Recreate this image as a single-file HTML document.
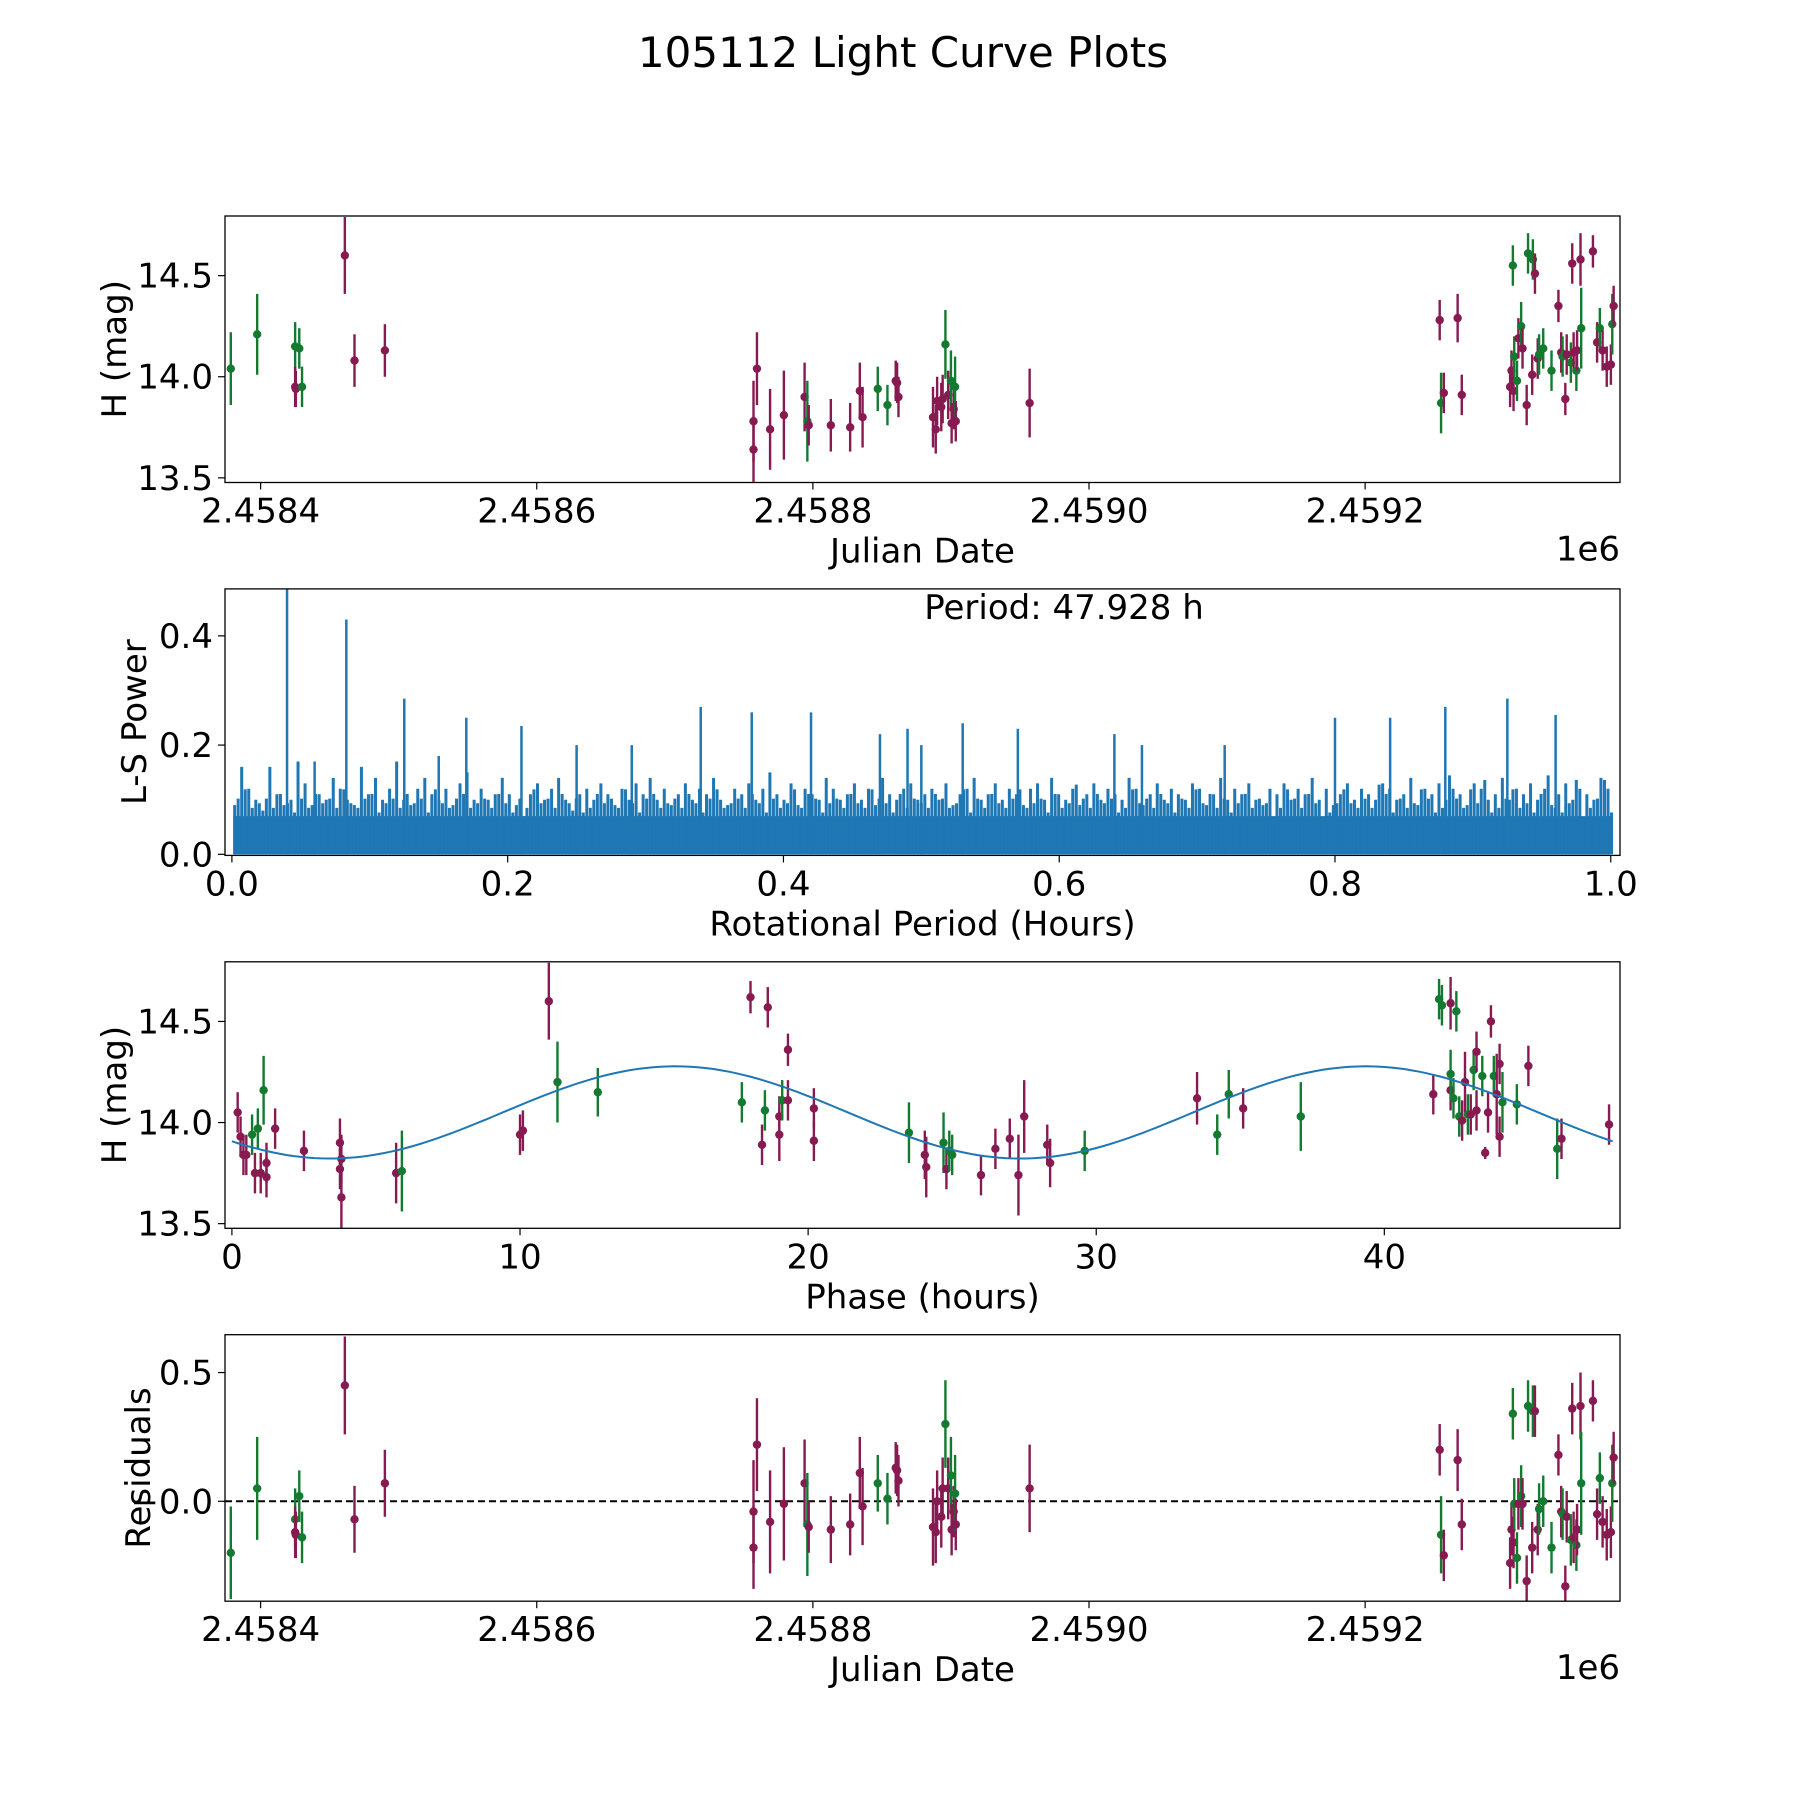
<!DOCTYPE html>
<html><head><meta charset="utf-8"><style>
html,body{margin:0;padding:0;background:#fff;}
svg{display:block;font-family:"DejaVu Sans","Liberation Sans",sans-serif;}
</style></head><body>
<svg id="fig" width="1800" height="1800" viewBox="0 0 1800 1800" xmlns="http://www.w3.org/2000/svg">
<text x="903" y="67" font-size="42" text-anchor="middle">105112 Light Curve Plots</text>
<g id="g1"></g>
<g id="g2"></g>
<g id="g3"></g>
<g id="g4"></g>
</svg>
<script>
const jdOffsets=[-21.6,-2.5,25,25,25.5,28,30,61,68,90,357,357,359.5,369,379,394,396,397,413,427,434,436,447,454,460,461,462,487,489,490,493,494,496,498,500,500.5,502,503,503.5,557,854,855,857,867,870,905,906,907,907.5,908,910,911,913,914,917,918,921,921.5,923,925,926,929,935,940,942,943,945,946,949,950,951,953,953.5,956,956.5,965,968,970,972,975,978,979,980];
const mags=[14.04,14.21,14.15,13.95,13.94,14.14,13.95,14.60,14.08,14.13,13.78,13.64,14.04,13.74,13.81,13.90,13.78,13.76,13.76,13.75,13.93,13.80,13.94,13.86,13.98,13.97,13.90,13.80,13.74,13.88,13.85,13.89,14.16,13.91,13.98,13.77,13.84,13.95,13.78,13.87,14.28,13.87,13.92,14.29,13.91,13.95,14.03,14.55,13.93,14.10,13.98,14.19,14.25,14.14,13.86,14.61,14.01,14.58,14.51,14.09,14.11,14.14,14.03,14.35,14.12,14.10,13.89,14.11,14.07,14.56,14.12,14.03,14.13,14.58,14.24,14.62,14.17,14.24,14.13,14.05,14.06,14.26,14.35];
const magErrs=[.18,.2,.12,.1,.09,.1,.1,.19,.13,.13,.2,.16,.18,.2,.22,.17,.2,.1,.13,.12,.14,.15,.11,.1,.1,.1,.1,.15,.12,.12,.12,.12,.17,.12,.15,.1,.1,.15,.1,.17,.1,.15,.1,.12,.1,.1,.1,.1,.1,.1,.1,.1,.12,.1,.1,.1,.1,.1,.1,.1,.1,.1,.1,.08,.1,.1,.08,.1,.1,.1,.1,.1,.1,.13,.2,.08,.1,.1,.1,.1,.1,.15,.1];
const bands="GGGMMGGMMMMMMMMMGMMMMMGGMMMMMMMMGMGMMGMMMGMMMMMGMGGMGMMGMGMMGGGMMGMMGMMGMMGMMGMMMGM".split("");
const residuals=[-0.20,0.05,-0.07,-0.12,-0.13,0.02,-0.14,0.45,-0.07,0.07,-0.04,-0.18,0.22,-0.08,-0.01,0.07,-0.09,-0.10,-0.11,-0.09,0.11,-0.02,0.07,0.01,0.13,0.12,0.08,-0.10,-0.12,0.0,-0.06,0.05,0.30,0.05,0.10,-0.11,-0.04,0.03,-0.09,0.05,0.20,-0.13,-0.21,0.16,-0.09,-0.24,-0.11,0.34,-0.16,-0.01,-0.22,-0.01,0.02,-0.01,-0.31,0.37,-0.18,0.35,0.35,-0.11,-0.03,0.0,-0.18,0.18,-0.04,-0.05,-0.33,-0.06,-0.15,0.36,-0.14,-0.17,-0.11,0.37,0.07,0.39,-0.05,0.09,-0.08,-0.13,-0.12,0.07,0.17];
const phases=[0.2,0.3,0.4,0.5,0.7,0.8,0.9,1.0,1.1,1.2,1.2,1.5,2.5,3.75,3.75,3.8,3.8,5.7,5.9,10.0,10.1,11.0,11.3,12.7,17.7,18.0,18.4,18.5,18.6,19.0,19.0,19.1,19.3,19.3,20.2,20.2,23.5,24.05,24.1,24.7,24.8,24.9,25.0,26.0,26.5,27.0,27.3,27.5,28.3,28.4,29.6,33.5,34.2,34.6,35.1,37.1,41.7,41.9,42.0,42.3,42.3,42.3,42.4,42.5,42.6,42.7,42.8,42.9,43.0,43.1,43.2,43.2,43.4,43.5,43.6,43.7,43.8,43.9,44.0,44.1,44.0,44.6,45.0,46.0,46.15,47.8];
const phaseMags=[14.05,13.93,13.84,13.84,13.94,13.75,13.97,13.75,14.16,13.80,13.73,13.97,13.86,13.77,13.90,13.63,13.82,13.75,13.76,13.94,13.96,14.60,14.20,14.15,14.10,14.62,13.89,14.06,14.57,14.03,13.94,14.11,14.36,14.11,14.07,13.91,13.95,13.84,13.78,13.90,13.77,13.86,13.84,13.74,13.87,13.92,13.74,14.03,13.89,13.80,13.86,14.12,13.94,14.14,14.07,14.03,14.14,14.61,14.58,14.16,14.24,14.59,14.12,14.55,14.03,14.01,14.20,14.04,14.04,14.26,14.35,14.06,14.23,13.85,14.05,14.50,14.23,14.14,14.29,14.10,13.93,14.09,14.28,13.87,13.92,13.99];
const phaseErrs=[.1,.1,.1,.1,.1,.1,.1,.1,.17,.1,.1,.1,.1,.1,.12,.15,.12,.15,.2,.1,.1,.19,.2,.12,.1,.08,.1,.1,.1,.1,.13,.1,.08,.1,.1,.1,.15,.12,.15,.15,.1,.1,.1,.1,.1,.1,.2,.18,.1,.12,.1,.13,.1,.12,.1,.17,.1,.1,.1,.1,.12,.13,.1,.1,.1,.1,.15,.1,.1,.1,.1,.1,.1,.03,.1,.08,.1,.2,.1,.15,.1,.1,.1,.15,.1,.1];
const phaseBands="MMMMGMGMGMMMMMMMMMGMMMGGGMMGMMMGMMMMGMMGMGGMMMMMMMGMGGMGMGGMGMGGGMMGMGMMGMMMGMMGMGMGMM".split("");
const fitMean=14.05, fitAmp=0.228, fitZero=9.4, fitPeriod=23.964;
const lsBase=[0.09,0.16,0.12,0.10,0.08,0.16,0.11,0.09,0.10,0.17,0.13,0.09,0.11,0.10,0.14,0.12,0.10,0.09,0.16,0.11,0.14,0.10,0.12,0.17,0.10,0.09,0.12,0.14,0.11,0.10,0.12,0.09,0.13,0.15,0.10,0.12,0.10,0.11,0.14,0.11,0.09,0.07,0.11,0.13,0.10,0.12,0.14,0.10,0.08,0.11,0.12,0.10,0.13,0.11,0.09,0.12,0.10,0.13,0.11,0.14,0.10,0.12,0.09,0.11,0.13,0.10,0.12,0.11,0.14,0.10,0.09,0.12,0.11,0.13,0.10,0.12,0.15,0.11,0.10,0.13,0.09,0.12,0.11,0.10,0.14,0.12,0.10,0.11,0.13,0.10,0.12,0.09,0.14,0.11,0.10,0.12,0.13,0.10,0.11,0.12,0.10,0.13,0.09,0.11,0.12,0.14,0.10,0.11,0.13,0.10,0.12,0.11,0.09,0.12,0.13,0.10,0.14,0.11,0.10,0.12,0.09,0.11,0.13,0.10,0.12,0.11,0.10,0.14,0.12,0.09,0.11,0.13,0.10,0.12,0.11,0.10,0.13,0.12,0.09,0.11,0.14,0.10,0.12,0.11,0.13,0.10,0.09,0.12,0.11,0.13,0.10,0.12,0.11,0.14,0.10,0.12,0.09,0.11,0.13,0.10,0.12,0.11,0.10,0.13,0.12,0.10,0.11,0.14,0.09,0.12,0.11,0.13,0.10,0.12,0.11,0.09,0.13,0.12,0.10,0.11,0.14,0.10,0.12,0.11,0.13,0.10,0.12,0.09,0.11,0.13,0.10,0.12,0.11,0.10,0.14,0.12];
const lsPeakPeriods=[0.04,0.083,0.125,0.17,0.21,0.25,0.29,0.34,0.377,0.42,0.47,0.49,0.5,0.53,0.57,0.64,0.66,0.72,0.80,0.84,0.88,0.925,0.96,0.06,0.15];
const lsPeakPowers=[0.49,0.43,0.285,0.25,0.235,0.2,0.2,0.27,0.26,0.26,0.22,0.23,0.2,0.24,0.23,0.22,0.2,0.2,0.25,0.25,0.27,0.285,0.255,0.17,0.18];
const jdTicks=[0,200,400,600,800], jdTickLabels=["2.4584","2.4586","2.4588","2.4590","2.4592"];
const magTicks=[13.5,14.0,14.5], magTickLabels=["13.5","14.0","14.5"];
const lsXTicks=[0,0.2,0.4,0.6,0.8,1.0], lsXTickLabels=["0.0","0.2","0.4","0.6","0.8","1.0"];
const lsYTicks=[0,0.2,0.4], lsYTickLabels=["0.0","0.2","0.4"];
const phTicks=[0,10,20,30,40], phTickLabels=["0","10","20","30","40"];
const resTicks=[0,0.5], resTickLabels=["\u22120.0","0.5"];

const NS="http://www.w3.org/2000/svg";
const L=225,R=1620,H=266.5,TOPS=[216,588.9,961.8,1334.7];
const COL={M:"#871a50",G:"#137a2f"};
const FS=34;
function mk(tag,parent,attrs){const e=document.createElementNS(NS,tag);for(const k in attrs)e.setAttribute(k,attrs[k]);parent.appendChild(e);return e;}
function scale(d0,d1,r0,r1){return v=>r0+(v-d0)/(d1-d0)*(r1-r0);}
function frame(g,top,xs,ys,xt,xl,yt,yl,xlabel,ylabel,off,ylx){
  const b=top+H;
  for(let i=0;i<xt.length;i++){const x=xs(xt[i]);
    const t=mk('line',g,{x1:x,x2:x,y1:b,y2:b+7,stroke:'#000','stroke-width':1.2});
    
    const tx=mk('text',g,{x:x,y:b+40,'font-size':FS,'text-anchor':'middle'});tx.textContent=xl[i];
    }
  for(let i=0;i<yt.length;i++){const y=ys(yt[i]);
    const t=mk('line',g,{x1:L-7,x2:L,y1:y,y2:y,stroke:'#000','stroke-width':1.2});
    
    const tx=mk('text',g,{x:L-12,y:y+12,'font-size':FS,'text-anchor':'end'});tx.textContent=yl[i];
    }
  const xla=mk('text',g,{x:(L+R)/2,y:b+80,'font-size':FS,'text-anchor':'middle'});xla.textContent=xlabel;
  
  const yla=mk('text',g,{x:0,y:0,'font-size':FS,'text-anchor':'middle',transform:`translate(${ylx},${top+H/2}) rotate(-90)`});yla.textContent=ylabel;
  
  if(off){const o=mk('text',g,{x:R,y:b+78,'font-size':FS,'text-anchor':'end'});o.textContent=off;
    }
}
function border(g,top){const r=mk('rect',g,{x:L,y:top,width:R-L,height:H,fill:'none',stroke:'#000','stroke-width':1.3});
  }
function clip(id,top){const d=mk('clipPath',document.getElementById('fig'),{id:id});mk('rect',d,{x:L,y:top,width:R-L,height:H});}
function points(g,xsArr,ysArr,errArr,bandArr,xs,ys,name){
  for(let i=0;i<xsArr.length;i++){const x=xs(xsArr[i]),c=COL[bandArr[i]]||COL.M;
    const e=mk('line',g,{x1:x,x2:x,y1:ys(ysArr[i]-errArr[i]),y2:ys(ysArr[i]+errArr[i]),stroke:c,'stroke-width':2.4});
    
    const p=mk('circle',g,{cx:x,cy:ys(ysArr[i]),r:4.2,fill:c});
    }
}
(function(){const g=document.getElementById('g1'),top=TOPS[0];clip('c1',top);
  const xs=scale(-25.8,984.6,L,R),ys=scale(13.477,14.795,top+H,top);
  const pg=mk('g',g,{'clip-path':'url(#c1)'});
  points(pg,jdOffsets,mags,magErrs,bands,xs,ys,'magnitude-point');
  border(g,top);frame(g,top,xs,ys,jdTicks,jdTickLabels,magTicks,magTickLabels,'Julian Date','H (mag)','1e6',126);})();
(function(){const g=document.getElementById('g2'),top=TOPS[1];clip('c2',top);
  const xs=scale(-0.005,1.0067,L,R),ys=scale(-0.002,0.486,top+H,top);
  const pg=mk('g',g,{'clip-path':'url(#c2)'});
  const base=mk('rect',pg,{x:xs(0.001),y:ys(0.07),width:xs(1)-xs(0.001),height:ys(0)-ys(0.07),fill:'#1f77b4'});
  
  const n=lsBase.length;
  for(let i=0;i<n;i++){const x=xs(0.002+i/(n-1)*0.996);
    const l=mk('line',pg,{x1:x,x2:x,y1:ys(0),y2:ys(lsBase[i]),stroke:'#1f77b4','stroke-width':3});
    
    const x2=xs(0.002+(i+0.5)/(n-1)*0.996);
    const l2=mk('line',pg,{x1:x2,x2:x2,y1:ys(0),y2:ys(lsBase[n-1-i]*0.85),stroke:'#1f77b4','stroke-width':3});
    }
  for(let i=0;i<lsPeakPeriods.length;i++){const x=xs(lsPeakPeriods[i]);
    const l=mk('line',pg,{x1:x,x2:x,y1:ys(0),y2:ys(lsPeakPowers[i]),stroke:'#1f77b4','stroke-width':2.5});
    }
  const t=mk('text',g,{x:1064,y:top+30,'font-size':FS,'text-anchor':'middle'});t.textContent='Period: 47.928 h';
  
  border(g,top);frame(g,top,xs,ys,lsXTicks,lsXTickLabels,lsYTicks,lsYTickLabels,'Rotational Period (Hours)','L-S Power',null,146);})();
(function(){const g=document.getElementById('g3'),top=TOPS[2];clip('c3',top);
  const xs=scale(-0.24,48.18,L,R),ys=scale(13.477,14.795,top+H,top);
  const pg=mk('g',g,{'clip-path':'url(#c3)'});
  points(pg,phases,phaseMags,phaseErrs,phaseBands,xs,ys,'phase-point');
  let d='';for(let k=0;k<=200;k++){const ph=k/200*47.928;const m=fitMean+fitAmp*Math.sin(2*Math.PI*(ph-fitZero)/fitPeriod);d+=(k?'L':'M')+xs(ph).toFixed(1)+','+ys(m).toFixed(1);}
  const c=mk('path',pg,{d:d,fill:'none',stroke:'#1f77b4','stroke-width':2});
  
  border(g,top);frame(g,top,xs,ys,phTicks,phTickLabels,magTicks,magTickLabels,'Phase (hours)','H (mag)',null,126);})();
(function(){const g=document.getElementById('g4'),top=TOPS[3];clip('c4',top);
  const xs=scale(-25.8,984.6,L,R),ys=scale(-0.388,0.647,top+H,top);
  const pg=mk('g',g,{'clip-path':'url(#c4)'});
  const z=mk('line',pg,{x1:L,x2:R,y1:ys(0),y2:ys(0),stroke:'#000','stroke-width':2,'stroke-dasharray':'7,4'});
  
  points(pg,jdOffsets,residuals,magErrs,bands,xs,ys,'residual-point');
  border(g,top);frame(g,top,xs,ys,jdTicks,jdTickLabels,resTicks,resTickLabels,'Julian Date','Residuals','1e6',150);})();
</script>
</body></html>
